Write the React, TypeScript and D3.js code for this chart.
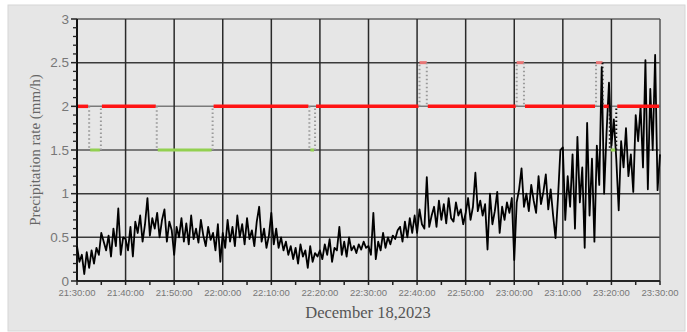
import React from 'react';
import * as d3 from 'd3';

// precipitation rate (mm/h), one value every 30 s from 21:30:00 to 23:30:00
const rateStart = '21:30:00';
const rateStepSec = 30;
const rateValues = [
  0.40, 0.22, 0.30, 0.08, 0.33, 0.15, 0.35, 0.20, 0.38, 0.30, 0.55, 0.45, 0.35, 0.52, 0.28, 0.60, 0.40, 0.83, 0.30, 0.50,
  0.48, 0.35, 0.62, 0.28, 0.68, 0.55, 0.75, 0.45, 0.65, 0.95, 0.52, 0.72, 0.60, 0.78, 0.50, 0.70, 0.82, 0.45, 0.68, 0.58,
  0.30, 0.62, 0.50, 0.72, 0.45, 0.66, 0.42, 0.75, 0.48, 0.60, 0.44, 0.70, 0.52, 0.40, 0.62, 0.47, 0.55, 0.35, 0.65, 0.22,
  0.55, 0.38, 0.70, 0.45, 0.62, 0.40, 0.75, 0.50, 0.65, 0.42, 0.72, 0.48, 0.58, 0.40, 0.68, 0.85, 0.45, 0.60, 0.38, 0.52,
  0.78, 0.42, 0.60, 0.38, 0.50, 0.35, 0.45, 0.30, 0.40, 0.25, 0.38, 0.20, 0.42, 0.28, 0.35, 0.15, 0.40, 0.22, 0.32, 0.28,
  0.35, 0.25, 0.42, 0.30, 0.48, 0.22, 0.38, 0.35, 0.62, 0.30, 0.45, 0.28, 0.50, 0.35, 0.40, 0.32, 0.42, 0.36, 0.45, 0.38,
  0.40, 0.30, 0.78, 0.25, 0.45, 0.35, 0.55, 0.38, 0.50, 0.42, 0.52, 0.48, 0.58, 0.62, 0.45, 0.68, 0.50, 0.72, 0.55, 0.75,
  0.55, 0.82, 0.65, 0.60, 1.19, 0.62, 0.75, 0.85, 0.62, 0.92, 0.70, 0.88, 0.66, 0.95, 0.72, 0.68, 0.90, 0.75, 0.82, 0.65,
  0.78, 0.95, 0.70, 0.85, 1.24, 0.80, 0.92, 0.75, 0.88, 0.36, 1.00, 0.65, 0.80, 1.02, 0.55, 0.85, 0.70, 0.90, 0.78, 0.95,
  0.24, 0.90, 1.05, 1.29, 0.85, 1.00, 0.80, 1.10, 0.92, 0.78, 1.20, 0.88, 1.02, 1.22, 0.82, 1.05, 0.75, 0.49, 0.95, 1.50,
  1.53, 0.70, 1.20, 0.85, 1.45, 0.60, 1.65, 0.90, 1.30, 0.38, 1.81, 0.75, 1.40, 0.45, 1.55, 1.10, 2.45, 1.00, 1.70, 2.27,
  1.55, 1.85, 1.40, 0.81, 1.60, 1.30, 1.75, 1.20, 1.45, 1.02, 1.90, 1.60, 2.00, 1.30, 2.53, 1.05, 2.20, 1.50, 2.59, 1.04,
  1.45,
];

// state (step) series: start time of each segment and its level
const stateTimes = [
  '21:30:00', '21:32:30', '21:34:55', '21:46:25', '21:57:55', '22:17:50', '22:19:00',
  '22:40:30', '22:42:00', '23:00:30', '23:02:00', '23:16:50', '23:18:10', '23:19:40', '23:21:00',
];
const stateLevels = [2, 1.5, 2, 1.5, 2, 1.5, 2, 2.5, 2, 2.5, 2, 2.5, 2, 1.5, 2];
const stateEnd = '23:30:00';

const xTickLabels = [
  '21:30:00', '21:40:00', '21:50:00', '22:00:00', '22:10:00', '22:20:00', '22:30:00',
  '22:40:00', '22:50:00', '23:00:00', '23:10:00', '23:20:00', '23:30:00',
];
const yTicks = [0, 0.5, 1, 1.5, 2, 2.5, 3];

const W = 687;
const H = 332;
const left = 77, right = 660, top = 19, bottom = 281;

const parse = (s: string) => {
  const [h, m, sec] = s.split(':').map(Number);
  return new Date(2023, 11, 18, h, m, sec);
};

const levelColor = (v: number) => (v === 2 ? '#ff1414' : v === 1.5 ? '#92d050' : '#e87474');

export default function App() {
  const x = d3.scaleTime().domain([parse('21:30:00'), parse('23:30:00')]).range([left, right]);
  const y = d3.scaleLinear().domain([0, 3]).range([bottom, top]);

  const t0 = parse(rateStart).getTime();
  const ratePts: [Date, number][] = rateValues.map((v, i) => [new Date(t0 + i * rateStepSec * 1000), v]);
  const line = d3.line<[Date, number]>().x(d => x(d[0])).y(d => y(d[1]));

  const majorX = xTickLabels.map(parse);
  const minorX = d3.timeMinute.every(5)!.range(parse('21:30:00'), parse('23:30:01')).filter(d => d.getMinutes() % 10 !== 0);
  const minorY = d3.range(0, 31).map(i => i / 10).filter(v => Math.round(v * 10) % 5 !== 0);

  const segs = stateTimes.map((t, i) => ({
    x0: x(parse(t)),
    x1: x(parse(i + 1 < stateTimes.length ? stateTimes[i + 1] : stateEnd)),
    v: stateLevels[i],
  }));
  const darkFrom = x(parse('23:18:00'));

  return (
    <svg width={W} height={H} style={{ position: 'absolute', left: 0, top: 0, background: '#fff' }}>
      <rect x={8} y={5} width={677} height={326} fill="#e6e6e6" stroke="#d6d6d6" />

      {/* horizontal grid */}
      {yTicks.map(v => (
        <line key={'gy' + v} x1={left} x2={right} y1={y(v)} y2={y(v)}
          stroke={v === 1.5 || v === 2 ? '#7a7a7a' : v === 3 ? '#606060' : '#3a3a3a'}
          strokeWidth={v === 1.5 ? 2.2 : 1.5} />
      ))}
      {/* vertical grid */}
      {majorX.map((d, i) => (
        <line key={'gx' + i} x1={x(d)} x2={x(d)} y1={top} y2={bottom}
          stroke={i === majorX.length - 1 ? '#555' : '#2a2a2a'} strokeWidth={1.5} />
      ))}

      {/* axes */}
      <line x1={left} x2={left} y1={top} y2={bottom} stroke="#000" strokeWidth={1.6} />
      <line x1={left} x2={right} y1={bottom} y2={bottom} stroke="#111" strokeWidth={1.6} />
      {yTicks.map(v => (
        <g key={'yt' + v}>
          <line x1={left - 6} x2={left} y1={y(v)} y2={y(v)} stroke="#222" strokeWidth={1.5} />
          <text x={69} y={y(v) + 4.5} textAnchor="end" fontFamily="Liberation Sans" fontSize={13.5} fill="#777">{v}</text>
        </g>
      ))}
      {minorY.map(v => (
        <line key={'ym' + v} x1={left - 4} x2={left} y1={y(v)} y2={y(v)} stroke="#222" strokeWidth={1.3} />
      ))}
      {majorX.map((d, i) => (
        <g key={'xt' + i}>
          <line x1={x(d)} x2={x(d)} y1={bottom} y2={bottom + 4} stroke="#222" strokeWidth={1.5} />
          <text x={x(d)} y={296} textAnchor="middle" fontFamily="Liberation Sans" fontSize={9.5} fill="#777">{xTickLabels[i]}</text>
        </g>
      ))}
      {minorX.map((d, i) => (
        <line key={'xm' + i} x1={x(d)} x2={x(d)} y1={bottom + 1} y2={bottom + 4} stroke="#222" strokeWidth={1.5} />
      ))}

      {/* precipitation rate */}
      <path d={line(ratePts) || ''} fill="none" stroke="#000" strokeWidth={1.8} strokeLinejoin="round" />

      {/* state step series */}
      {segs.map((s, i) => (
        <line key={'s' + i} x1={s.v === 2.5 ? s.x0 : s.x0 + 1} x2={s.v === 2.5 ? s.x1 : s.x1 - 1} y1={y(s.v)} y2={y(s.v)}
          stroke={levelColor(s.v)} strokeWidth={s.v === 2 ? 3.5 : 3} />
      ))}
      {segs.slice(1).map((s, i) => (
        <line key={'tr' + i} x1={s.x0} x2={s.x0} y1={y(segs[i].v)} y2={y(s.v)}
          stroke={s.x0 >= darkFrom ? '#111' : '#9a9a9a'} strokeWidth={2} strokeDasharray="1.5 2.5" />
      ))}

      <text transform="translate(40,150) rotate(-90)" textAnchor="middle" fontFamily="Liberation Serif" fontSize={15} fill="#666">
        Precipitation rate (mm/h)
      </text>
      <text x={368} y={318} textAnchor="middle" fontFamily="Liberation Serif" fontSize={16.5} fill="#555">
        December 18,2023
      </text>
    </svg>
  );
}
